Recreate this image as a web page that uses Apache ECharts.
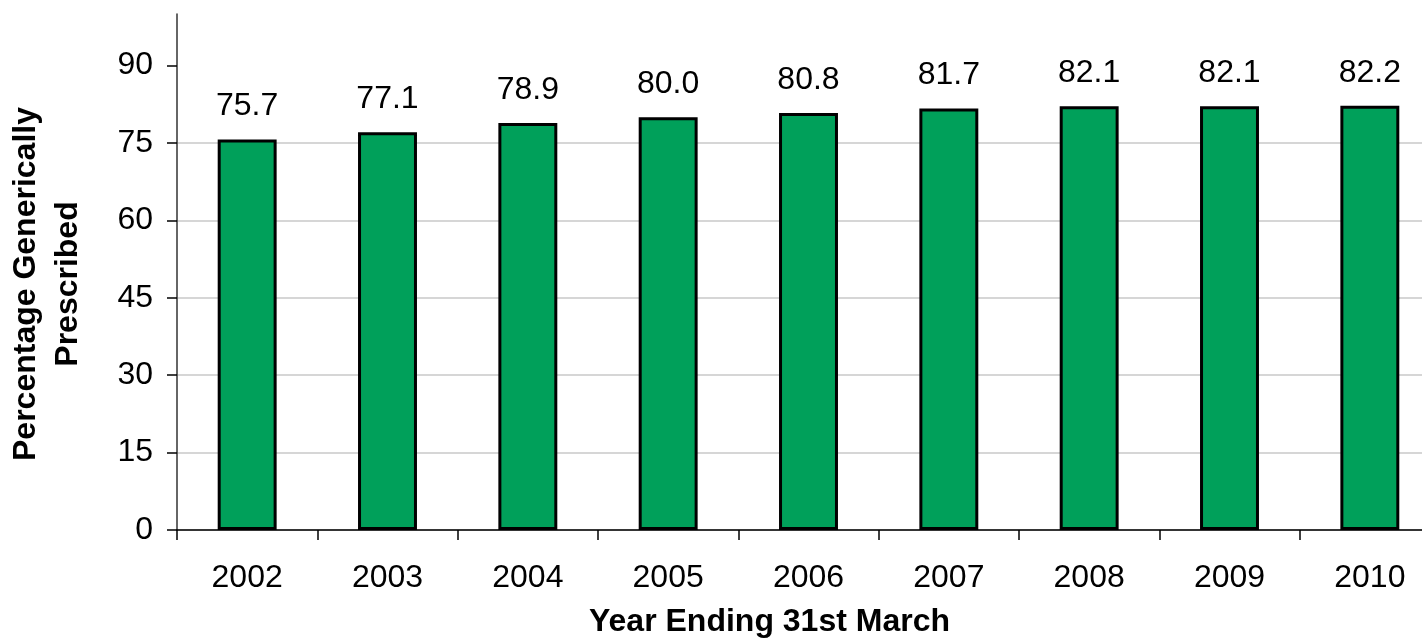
<!DOCTYPE html>
<html>
<head>
<meta charset="utf-8">
<script src="https://cdn.jsdelivr.net/npm/echarts@6/dist/echarts.min.js"></script>
<style>
html, body {
    margin: 0;
    padding: 0;
    background: #fff;
}

#chart {
    width: 1422px;
    height: 640px;
}
</style>
</head>
<body>
<div id="chart"></div>
<script>
const years = ['2002', '2003', '2004', '2005', '2006', '2007', '2008', '2009', '2010']
const generic = [75.7, 77.1, 78.9, 80.0, 80.8, 81.7, 82.1, 82.1, 82.2]
const yTicks = [0, 15, 30, 45, 60, 75, 90]

const font = '"Liberation Sans", Arial, sans-serif'
const chart = echarts.init(document.getElementById('chart'))

const option = {
    animation: false,
    textStyle: {fontFamily: font},
    grid: {
        left: 177,
        right: -18,
        top: 14,
        bottom: 110,
        outerBoundsMode: 'none',
        containLabel: false
    },
    xAxis: {
        type: 'category',
        data: years,
        name: 'Year Ending 31st March',
        nameLocation: 'middle',
        nameGap: 76,
        nameTextStyle: {
            fontFamily: font,
            fontSize: 32,
            fontWeight: 'bold',
            color: '#000',
            padding: [0, 78, 0, 0]
        },
        axisLine: {lineStyle: {color: '#000', width: 1.5}},
        axisTick: {
            show: true,
            length: 10,
            interval: 0,
            lineStyle: {color: '#000', width: 1.5}
        },
        axisLabel: {
            margin: 32,
            fontSize: 32,
            color: '#000',
            fontFamily: font
        }
    },
    yAxis: {
        type: 'value',
        min: 0,
        max: 100,
        interval: 15,
        name: 'Percentage Generically\nPrescribed',
        nameLocation: 'middle',
        nameRotate: 90,
        nameGap: 88,
        nameTextStyle: {
            fontFamily: font,
            fontSize: 32,
            fontWeight: 'bold',
            color: '#000',
            lineHeight: 42,
            padding: [0, 24, 0, 0]
        },
        axisLine: {show: true, lineStyle: {color: '#333', width: 1.5}},
        axisTick: {
            show: true,
            length: 10,
            customValues: yTicks,
            lineStyle: {color: '#000', width: 1.5}
        },
        axisLabel: {
            margin: 24,
            fontSize: 32,
            color: '#000',
            fontFamily: font,
            customValues: yTicks
        },
        splitLine: {
            show: true,
            showMaxLine: false,
            lineStyle: {color: '#c8c8c8', width: 1.5}
        }
    },
    series: [
        {
            type: 'bar',
            data: generic,
            barWidth: '42%',
            itemStyle: {
                color: '#00a05a',
                borderColor: '#000',
                borderWidth: 3
            },
            label: {
                show: true,
                position: 'top',
                distance: 17,
                fontSize: 32,
                color: '#000',
                fontFamily: font,
                formatter: p => p.value.toFixed(1)
            }
        }
    ]
}

chart.setOption(option)
</script>
</body>
</html>
